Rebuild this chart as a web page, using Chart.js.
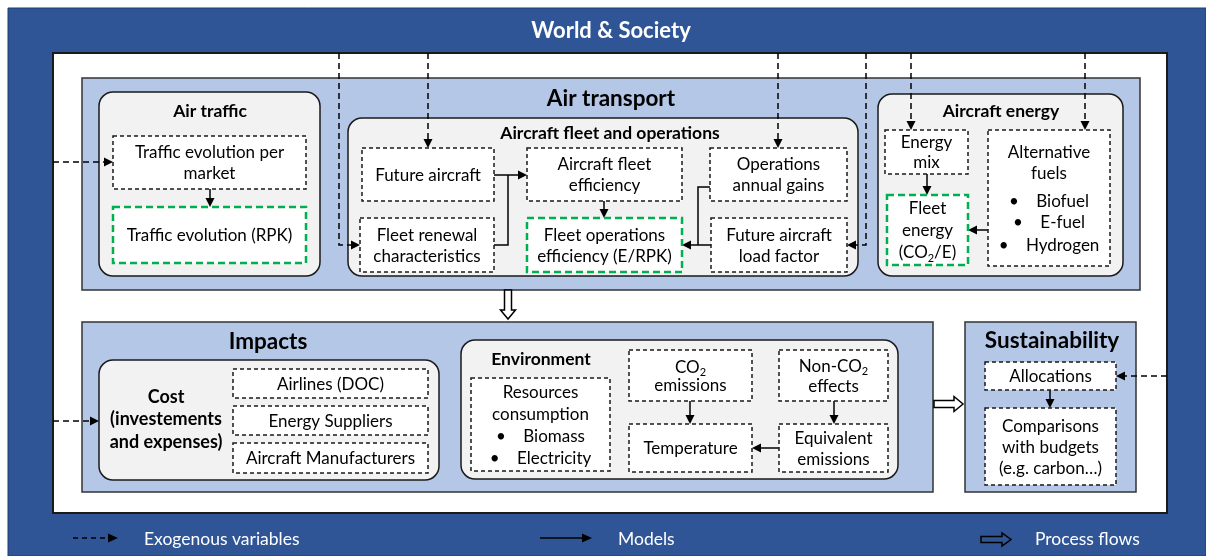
<!DOCTYPE html>
<html><head><meta charset="utf-8">
<script src="https://cdn.jsdelivr.net/npm/chart.js@4/dist/chart.umd.min.js"></script>
<style>html,body{margin:0;padding:0;background:#fff}canvas{display:block}</style>
</head><body>
<canvas id="c" width="1206" height="556"></canvas>
<script>
// ---- text content ----
const mainTitle = 'World & Society';
const panelTitles = ['Air transport', 'Impacts', 'Sustainability'];
const groupTitles = ['Air traffic', 'Aircraft fleet and operations', 'Aircraft energy', 'Environment'];
const nodeLabels = [
  ['Traffic evolution per', 'market'],
  ['Traffic evolution (RPK)'],
  ['Future aircraft'],
  ['Fleet renewal', 'characteristics'],
  ['Aircraft fleet', 'efficiency'],
  ['Fleet operations', 'efficiency (E/RPK)'],
  ['Operations', 'annual gains'],
  ['Future aircraft', 'load factor'],
  ['Energy', 'mix'],
  ['Fleet', 'energy', '(CO_2/E)'],
  ['Alternative', 'fuels', '', '•    Biofuel', '•    E-fuel', '•    Hydrogen'],
  ['Airlines (DOC)'],
  ['Energy Suppliers'],
  ['Aircraft Manufacturers'],
  ['Resources', 'consumption', '•    Biomass', '•    Electricity'],
  ['CO_2', 'emissions'],
  ['Non-CO_2', 'effects'],
  ['Temperature'],
  ['Equivalent', 'emissions'],
  ['Allocations'],
  ['Comparisons', 'with budgets', '(e.g. carbon…)']
];
const costLabel = ['Cost', '(investements', 'and expenses)'];
const legendLabels = ['Exogenous variables', 'Models', 'Process flows'];

// ---- layout (diagram geometry in axis units) ----
const panelBoxes = [[82,78,1140,290],[82,322,933,492],[965,322,1136,492]];
const panelTitlePos = [[611,99],[268,342],[1052,341]];
const groupBoxes = [[99,92,320,276],[348,118,858,276],[878,94,1123,276],[461,340,898,479],[99,360,439,480]];
const groupTitlePos = [[210,111],[610,133],[1001,111],[541,359]];
const nodeBoxes = [
  [113,136,306,189],[113,207,306,263],
  [362,148,494,201],[360,218,494,272],[527,148,682,201],[527,218,682,272],
  [710,148,847,201],[711,218,847,272],
  [885,130,968,174],[887,195,968,265],[988,130,1110,266],
  [233,369,428,398],[233,406,428,435],[233,443,428,473],
  [471,378,610,471],[629,350,752,401],[779,350,888,401],[629,424,752,472],[779,424,888,472],
  [985,362,1116,390],[985,408,1116,485]
];
const greenNodes = [1,5,9];
const lineH = [21,0,0,21,21,21,21,21,20,22,21,0,0,0,22,18,20,0,21,0,21];
const lineH2 = {10:[152,173,0,201,222,245]};
const exoPaths = [
  [[53,162],[113,162]],
  [[339,53],[339,245],[360,245]],
  [[428,53],[428,148]],
  [[778,53],[778,148]],
  [[866,53],[866,245],[847,245]],
  [[911,53],[911,130]],
  [[1085,53],[1085,130]],
  [[53,421],[99,421]],
  [[1167,376],[1116,376]]
];
const modelPaths = [
  [[210,189],[210,207]],
  [[508,175],[527,175]],
  [[604,201],[604,218]],
  [[711,245],[682,245]],
  [[927,174],[927,195]],
  [[988,230],[968,230]],
  [[690,401],[690,424]],
  [[834,401],[834,424]],
  [[779,448],[752,448]],
  [[1050,390],[1050,408]]
];
const modelLines = [
  [[494,175],[508,175]],
  [[494,245],[508,245],[508,175]],
  [[710,187],[698,187],[698,245]]
];
const processArrows = [[508,290,508,319],[934,404,963,404]];

const C = {dark:'#2f5597', light:'#b4c7e7', grey:'#f2f2f2', green:'#00b050', line:'#1a1a1a'};
const FONT = 'Lato, "Open Sans", sans-serif';

const diagram = {
  id:'diagram',
  afterDraw(chart){
    const ctx = chart.ctx, sx = chart.scales.x, sy = chart.scales.y;
    const X = v => sx.getPixelForValue(v), Y = v => sy.getPixelForValue(v);
    function box(b, o){
      const x1=X(b[0]), y1=Y(b[1]), x2=X(b[2]), y2=Y(b[3]);
      ctx.save();
      ctx.beginPath();
      if (o.r) ctx.roundRect(x1,y1,x2-x1,y2-y1,o.r); else ctx.rect(x1,y1,x2-x1,y2-y1);
      if (o.fill){ctx.fillStyle=o.fill; ctx.fill();}
      if (o.stroke){ctx.strokeStyle=o.stroke; ctx.lineWidth=o.lw||1.5; ctx.setLineDash(o.dash||[]); ctx.stroke();}
      ctx.restore();
    }
    function rich(str, x, y, size, weight, color, align){
      ctx.save();
      ctx.fillStyle=color; ctx.textBaseline='middle';
      const parts=[];
      const re=/_(\d)/g; let m, last=0;
      while((m=re.exec(str))){ parts.push([str.slice(last,m.index),0]); parts.push([m[1],1]); last=m.index+2; }
      parts.push([str.slice(last),0]);
      const f0 = weight+' '+size+'px '+FONT, f1 = weight+' '+Math.round(size*0.65)+'px '+FONT;
      let w=0;
      parts.forEach(p=>{ctx.font=p[1]?f1:f0; w+=ctx.measureText(p[0]).width;});
      let cx = align==='left'? X(x) : X(x)-w/2;
      parts.forEach(p=>{ctx.font=p[1]?f1:f0; ctx.textAlign='left'; ctx.fillText(p[0],cx,Y(y)+(p[1]?size*0.3:0)); cx+=ctx.measureText(p[0]).width;});
      ctx.restore();
    }
    function head(p, q, L, Wd){
      const [x1,y1]=[X(p[0]),Y(p[1])],[x2,y2]=[X(q[0]),Y(q[1])];
      const a=Math.atan2(y2-y1,x2-x1);
      ctx.save(); ctx.fillStyle='#000'; ctx.setLineDash([]);
      ctx.beginPath(); ctx.moveTo(x2,y2);
      ctx.lineTo(x2-L*Math.cos(a)+Wd*Math.sin(a), y2-L*Math.sin(a)-Wd*Math.cos(a));
      ctx.lineTo(x2-L*Math.cos(a)-Wd*Math.sin(a), y2-L*Math.sin(a)+Wd*Math.cos(a));
      ctx.closePath(); ctx.fill(); ctx.restore();
    }
    function path(pts, dash, arrow, L, Wd){
      L=L||9; Wd=Wd||4.5;
      ctx.save(); ctx.strokeStyle='#000'; ctx.lineWidth=1.5; ctx.setLineDash(dash);
      ctx.beginPath(); ctx.moveTo(X(pts[0][0]),Y(pts[0][1]));
      const n=pts.length;
      for(let i=1;i<n;i++){
        let px=pts[i][0], py=pts[i][1];
        if(arrow && i===n-1){
          const dx=Math.sign(px-pts[i-1][0]), dy=Math.sign(py-pts[i-1][1]);
          px-=dx*(L-2); py-=dy*(L-2);
        }
        ctx.lineTo(X(px),Y(py));
      }
      ctx.stroke(); ctx.restore();
      if(arrow) head(pts[n-2], pts[n-1], L, Wd);
    }
    function hollow(a, fill, sh, hw, hl){
      const [x1,y1,x2,y2]=a;
      const ax=X(x1), ay=Y(y1), bx=X(x2), by=Y(y2);
      const ang=Math.atan2(by-ay,bx-ax), len=Math.hypot(bx-ax,by-ay);
      ctx.save(); ctx.translate(ax,ay); ctx.rotate(ang);
      ctx.beginPath();
      ctx.moveTo(0,-sh); ctx.lineTo(len-hl,-sh); ctx.lineTo(len-hl,-hw); ctx.lineTo(len,0);
      ctx.lineTo(len-hl,hw); ctx.lineTo(len-hl,sh); ctx.lineTo(0,sh); ctx.closePath();
      if(fill){ctx.fillStyle=fill; ctx.fill();}
      ctx.lineWidth=1.5; ctx.strokeStyle='#000'; ctx.stroke();
      ctx.restore();
    }

    box([0,0,1206,556],{fill:'#fff'});
    box([8,8,1206,556],{fill:C.dark, stroke:'#1f3c6e', lw:1});
    box([53,53,1167,513],{fill:'#fff', stroke:'#1a1a1a', lw:2});
    rich(mainTitle, 611, 31, 22, 'bold', '#fff');

    panelBoxes.forEach(b=>box(b,{fill:C.light, stroke:'#333', lw:1.5}));
    groupBoxes.forEach(b=>box(b,{fill:C.grey, stroke:'#1a1a1a', lw:1.5, r:14}));
    panelTitles.forEach((t,i)=>rich(t, panelTitlePos[i][0], panelTitlePos[i][1], 22.5, 'bold', '#000'));
    groupTitles.forEach((t,i)=>rich(t, groupTitlePos[i][0], groupTitlePos[i][1], 17.5, 'bold', '#000'));
    costLabel.forEach((t,i)=>rich(t, 166, 397+i*22.5, 18, 'bold', '#000'));

    exoPaths.forEach(p=>path(p,[6,4],true));
    modelLines.forEach(p=>path(p,[],false));
    modelPaths.forEach(p=>path(p,[],true));

    nodeBoxes.forEach((b,i)=>{
      const g = greenNodes.includes(i);
      box(b,{fill:'#fff', stroke: g?C.green:'#1a1a1a', lw: g?2.5:1.5, dash: g?[7,4]:[4,3]});
      const lines=nodeLabels[i], cx=(b[0]+b[2])/2, cy=(b[1]+b[3])/2;
      const lh=lineH[i]||21;
      lines.forEach((t,k)=>{
        if(!t) return;
        let y = lineH2[i] ? lineH2[i][k] : cy + (k-(lines.length-1)/2)*lh;
        rich(t, cx, y+1, 17, 'normal', '#000');
      });
    });
    processArrows.forEach(a=>hollow(a,'#fff',3.5,7.5,9));

    // legend
    path([[73,538],[118,538]],[5,4],true,10,4.5);
    path([[540,538],[592,538]],[],true,10,4.5);
    hollow([981,539.5,1011,539.5],null,3,6.5,9);
    rich(legendLabels[0],144,539,17.5,'normal','#fff','left');
    rich(legendLabels[1],618,539,17.5,'normal','#fff','left');
    rich(legendLabels[2],1035,539,17.5,'normal','#fff','left');
  }
};

new Chart(document.getElementById('c'),{
  type:'scatter',
  data:{datasets:[{data:[], pointRadius:0}]},
  options:{
    responsive:false, animation:false, devicePixelRatio:1,
    layout:{padding:0},
    plugins:{legend:{display:false}, tooltip:{enabled:false}},
    scales:{
      x:{type:'linear', min:0, max:1206, display:false},
      y:{type:'linear', min:0, max:556, reverse:true, display:false}
    }
  },
  plugins:[diagram]
});
</script>
</body></html>
